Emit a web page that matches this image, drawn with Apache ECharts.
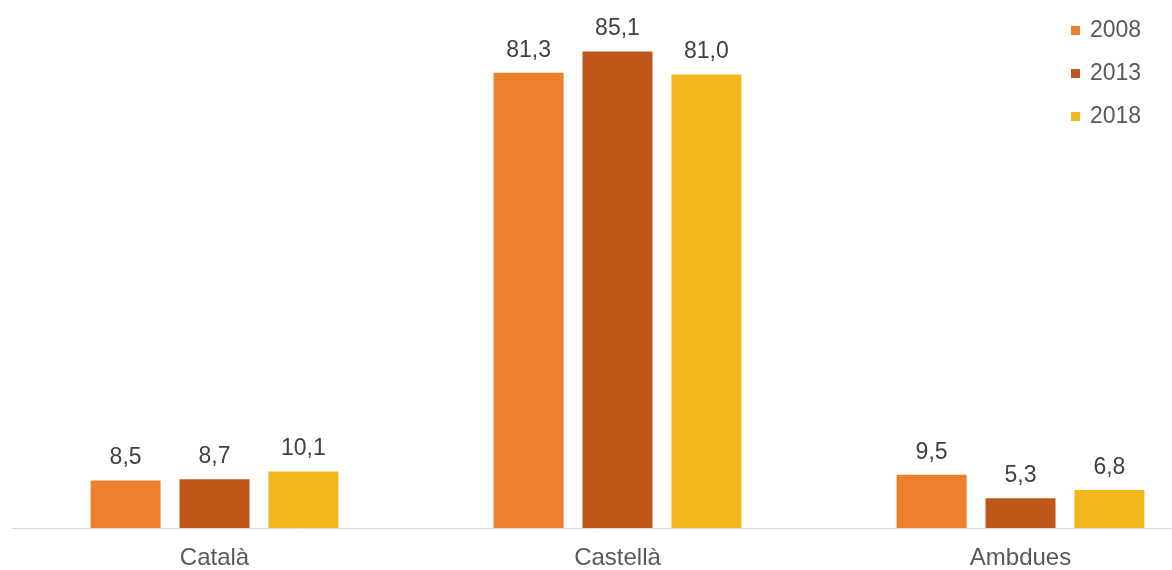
<!DOCTYPE html>
<html><head><meta charset="utf-8">
<script src="https://cdn.jsdelivr.net/npm/echarts@6/dist/echarts.min.js"></script>
<style>html,body{margin:0;padding:0;background:#fff}#c{width:1172px;height:570px}</style>
</head><body><div id="c"></div>
<script>
const categories = ['Català', 'Castellà', 'Ambdues'];
const years = ['2008', '2013', '2018'];
const values2008 = [8.5, 81.3, 9.5];
const values2013 = [8.7, 85.1, 5.3];
const values2018 = [10.1, 81.0, 6.8];
const colors = ['#EE7F2D', '#C0571A', '#F2B71D'];

const seriesData = [values2008, values2013, values2018];
const chart = echarts.init(document.getElementById('c'));
const font = 'Liberation Sans, Arial, sans-serif';
chart.setOption({
  animation: false,
  textStyle: { fontFamily: font },
  grid: { left: 13, width: 1209, top: 24, bottom: 42, containLabel: false, outerBoundsMode: 'none' },
  legend: {
    orient: 'vertical', left: 1066, top: 14,
    itemWidth: 9, itemHeight: 9, itemGap: 20,
    icon: 'rect',
    textStyle: { fontSize: 23, color: '#595959', fontFamily: font, padding: [0,0,0,5] },
    data: years
  },
  xAxis: {
    type: 'category', data: categories,
    axisLine: { lineStyle: { color: '#d9d9d9', width: 1 } },
    axisTick: { show: false },
    axisLabel: { fontSize: 24, color: '#595959', margin: 18, fontFamily: font }
  },
  yAxis: { type: 'value', min: 0, max: 90, show: false, splitLine: { show: false } },
  series: seriesData.map((d, i) => ({
    name: years[i], type: 'bar', data: d,
    barWidth: 70, barGap: '27%',
    itemStyle: { color: colors[i] },
    label: {
      show: true, position: 'top', distance: 11,
      fontSize: 23, color: '#404040', fontFamily: font,
      formatter: p => p.value.toFixed(1).replace('.', ',')
    }
  }))
});
</script></body></html>
